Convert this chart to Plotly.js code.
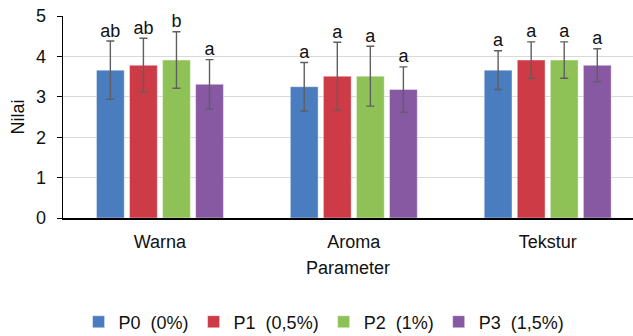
<!DOCTYPE html>
<html>
<head>
<meta charset="utf-8">
<script src="https://cdn.plot.ly/plotly-3.0.1.min.js"></script>
<style>html,body{margin:0;padding:0;background:#fff;}#chart{width:633px;height:336px;}</style>
</head>
<body>
<div id="chart"></div>
<script>
const categories = ["Warna", "Aroma", "Tekstur"];
const seriesNames = ["P0\u00a0 (0%)", "P1\u00a0 (0,5%)", "P2\u00a0 (1%)", "P3\u00a0 (1,5%)"];
const p0Values = [3.66, 3.25, 3.66];
const p1Values = [3.78, 3.51, 3.91];
const p2Values = [3.91, 3.51, 3.91];
const p3Values = [3.31, 3.18, 3.78];
const p0Errors = [0.72, 0.60, 0.48];
const p1Errors = [0.67, 0.84, 0.45];
const p2Errors = [0.70, 0.74, 0.45];
const p3Errors = [0.61, 0.56, 0.41];
const p0Letters = ["ab", "a", "a"];
const p1Letters = ["ab", "a", "a"];
const p2Letters = ["b", "a", "a"];
const p3Letters = ["a", "a", "a"];
const yTickVals = [0, 1, 2, 3, 4, 5];

const colors = ["#4a7dbf", "#cd3b46", "#8fc256", "#8759a3"];
const values = [p0Values, p1Values, p2Values, p3Values];
const errors = [p0Errors, p1Errors, p2Errors, p3Errors];
const letters = [p0Letters, p1Letters, p2Letters, p3Letters];

const FONT = "Liberation Sans, Arial, sans-serif";
const TXT = "#111111";
const FS = 18;
const traces = [];
values.forEach((vals, i) => {
  traces.push({
    type: "bar",
    name: seriesNames[i],
    x: categories,
    y: vals,
    offsetgroup: "g" + i,
    marker: {color: colors[i], line: {color: "rgba(255,255,255,0.5)", width: 0.8}},
    error_y: {type: "data", array: errors[i], visible: true, color: "#5f5f5f", thickness: 1.4, width: 4},
    hoverinfo: "skip"
  });
});
values.forEach((vals, i) => {
  traces.push({
    type: "scatter",
    mode: "text",
    x: categories,
    y: vals.map((v, k) => v + errors[i][k]),
    text: letters[i],
    textposition: "top center",
    textfont: {family: FONT, size: FS, color: TXT},
    offsetgroup: "g" + i,
    showlegend: false,
    hoverinfo: "skip",
    cliponaxis: false
  });
});

const layout = {
  width: 633, height: 336,
  margin: {l: 63, r: 0, t: 16, b: 118, autoexpand: false},
  paper_bgcolor: "#fff", plot_bgcolor: "#fff",
  barmode: "group",
  scattermode: "group",
  bargap: 0.318,
  scattergap: 0.318,
  bargroupgap: 0.16,
  font: {family: FONT, size: FS, color: TXT},
  xaxis: {
    range: [-0.5, 2.44],
    automargin: false,
    showline: true, linecolor: "#000", linewidth: 1.5,
    ticks: "", showgrid: false,
    ticklabelstandoff: 7,
    tickfont: {family: FONT, size: FS, color: TXT},
    title: {text: "Parameter", font: {family: FONT, size: FS, color: TXT}, standoff: 10}
  },
  yaxis: {
    range: [0, 5],
    automargin: false,
    tickvals: yTickVals,
    showline: true, linecolor: "#000", linewidth: 1.5,
    ticks: "outside", ticklen: 5, tickcolor: "#000", tickwidth: 1,
    showgrid: true, gridcolor: "#d9d9d9", gridwidth: 1,
    zeroline: false,
    ticklabelstandoff: 7,
    tickfont: {family: FONT, size: FS, color: TXT},
    title: {text: "Nilai", font: {family: FONT, size: FS, color: TXT}, standoff: 6}
  },
  showlegend: true,
  legend: {
    orientation: "h", x: 0.458, xanchor: "center", y: -0.515, yanchor: "middle",
    font: {family: FONT, size: FS, color: TXT},
    itemwidth: 30, tracegroupgap: 0,
    traceorder: "normal"
  }
};

Plotly.newPlot("chart", traces, layout, {displayModeBar: false, staticPlot: true});
</script>
</body>
</html>
